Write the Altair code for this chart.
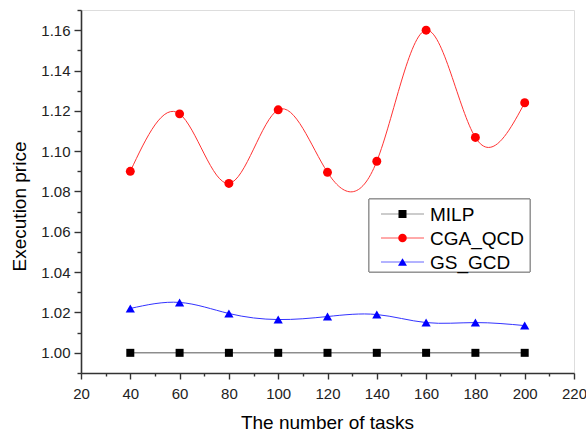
import altair as alt
import pandas as pd

tasks = [40, 60, 80, 100, 120, 140, 160, 180, 200]
milp = [1.000, 1.000, 1.000, 1.000, 1.000, 1.000, 1.000, 1.000, 1.000]
cga_qcd = [1.090, 1.1185, 1.084, 1.1205, 1.0895, 1.095, 1.160, 1.1068, 1.124]
gs_gcd = [1.022, 1.025, 1.0195, 1.0165, 1.018, 1.019, 1.015, 1.015, 1.0135]

series_names = ["MILP", "CGA_QCD", "GS_GCD"]
point_colors = ["#000000", "#ff0000", "#0000ff"]
line_colors = ["#555555", "#ff3333", "#3333ff"]
legend_line_colors = ["#999999", "#ff5555", "#6666ff"]
shapes = ["square", "circle", "triangle-up"]
point_sizes = [64, 80, 85]

x_ticks = list(range(20, 221, 10))
y_ticks = [round(0.99 + 0.01 * i, 2) for i in range(19)]

rows = []
for name, vals in zip(series_names, [milp, cga_qcd, gs_gcd]):
    for t, v in zip(tasks, vals):
        rows.append({"tasks": t, "price": v, "series": name})
df = pd.DataFrame(rows)
legend_df = pd.DataFrame({"series": series_names})

font = "Liberation Sans"

x_enc = alt.X(
    "tasks:Q",
    scale=alt.Scale(domain=[20, 220], nice=False, zero=False),
    axis=alt.Axis(
        title="The number of tasks",
        values=x_ticks,
        labelExpr="datum.value % 20 === 0 ? datum.label : ''",
        tickSize={"condition": {"test": "datum.value % 20 !== 0", "value": 3}, "value": 6},
        labelPadding=7,
        titleFontSize=19,
        titleFontWeight="normal",
        titleFont=font,
        titleColor="#000000",
        titleX=246,
        titleY=55,
        titleBaseline="alphabetic",
        labelFontSize=15,
        labelFont=font,
        labelColor="#222222",
        labelFlush=False,
        grid=False,
        domainColor="#333333",
        domainWidth=1.6,
        tickColor="#333333",
        tickWidth=1.4,
    ),
)
y_enc = alt.Y(
    "price:Q",
    scale=alt.Scale(domain=[0.99, 1.17], nice=False, zero=False),
    axis=alt.Axis(
        title="Execution price",
        values=y_ticks,
        labelExpr="round(datum.value*100) % 2 === 0 ? format(datum.value, '.2f') : ''",
        tickSize={"condition": {"test": "round(datum.value*100) % 2 !== 0", "value": 4}, "value": 7},
        labelPadding=4,
        titleFontSize=19,
        titleFontWeight="normal",
        titleFont=font,
        titleColor="#000000",
        titleX=-52,
        titleY=196,
        titleAngle=-90,
        titleBaseline="bottom",
        titleAlign="center",
        labelFontSize=15,
        labelFont=font,
        labelColor="#222222",
        labelFlush=False,
        grid=False,
        domainColor="#333333",
        domainWidth=1.6,
        tickColor="#333333",
        tickWidth=1.4,
    ),
)

# ---- data layers ----
lines = alt.Chart(df).mark_line(interpolate="natural", strokeWidth=1).encode(
    x=x_enc,
    y=y_enc,
    color=alt.Color(
        "series:N",
        scale=alt.Scale(domain=series_names, range=line_colors),
        legend=None,
    ),
    detail="series:N",
)

point_layers = []
for name, shp, col, sz in zip(series_names, shapes, point_colors, point_sizes):
    point_layers.append(
        alt.Chart(df)
        .transform_filter(alt.datum.series == name)
        .mark_point(filled=True, shape=shp, color=col, size=sz, opacity=1)
        .encode(x=x_enc, y=y_enc)
    )

data_layer = alt.layer(lines, *point_layers)

# ---- legend (box at the right-middle of the plot) ----
leg_y = alt.Y(
    "series:N",
    scale=alt.Scale(type="point", domain=series_names, range=[204, 252], padding=0),
    axis=None,
)

leg_box = alt.Chart(legend_df).mark_rect(
    fill="#ffffff", stroke="#888888", strokeWidth=1
).encode(
    x=alt.value(288), x2=alt.value(449), y=alt.value(189), y2=alt.value(262)
)

leg_lines = alt.Chart(legend_df).mark_rule(strokeWidth=1).encode(
    x=alt.value(300),
    x2=alt.value(343),
    y=leg_y,
    stroke=alt.Stroke(
        "series:N",
        scale=alt.Scale(domain=series_names, range=legend_line_colors),
        legend=None,
    ),
)

leg_points = alt.Chart(legend_df).mark_point(filled=True, opacity=1).encode(
    x=alt.value(321.5),
    y=leg_y,
    fill=alt.Fill(
        "series:N",
        scale=alt.Scale(domain=series_names, range=point_colors),
        legend=None,
    ),
    shape=alt.Shape(
        "series:N",
        scale=alt.Scale(domain=series_names, range=shapes),
        legend=None,
    ),
    size=alt.Size(
        "series:N",
        scale=alt.Scale(domain=series_names, range=point_sizes),
        legend=None,
    ),
)

leg_text = alt.Chart(legend_df).mark_text(
    align="left", baseline="middle", fontSize=19, font=font, color="#000000", dy=1
).encode(
    x=alt.value(349),
    y=leg_y,
    text="series:N",
)

legend_layer = alt.layer(leg_box, leg_lines, leg_points, leg_text)

chart = (
    alt.layer(data_layer, legend_layer)
    .resolve_scale(y="independent", shape="independent", size="independent")
    .properties(
        width=493,
        height=363,
        autosize=alt.AutoSizeParams(type="none"),
        padding={"left": 81, "top": 10, "right": 12, "bottom": 59},
    )
    .configure_view(stroke=None)
    .configure(background="#ffffff")
)

chart.save("out.html", embed_options={"renderer": "svg", "actions": False})
